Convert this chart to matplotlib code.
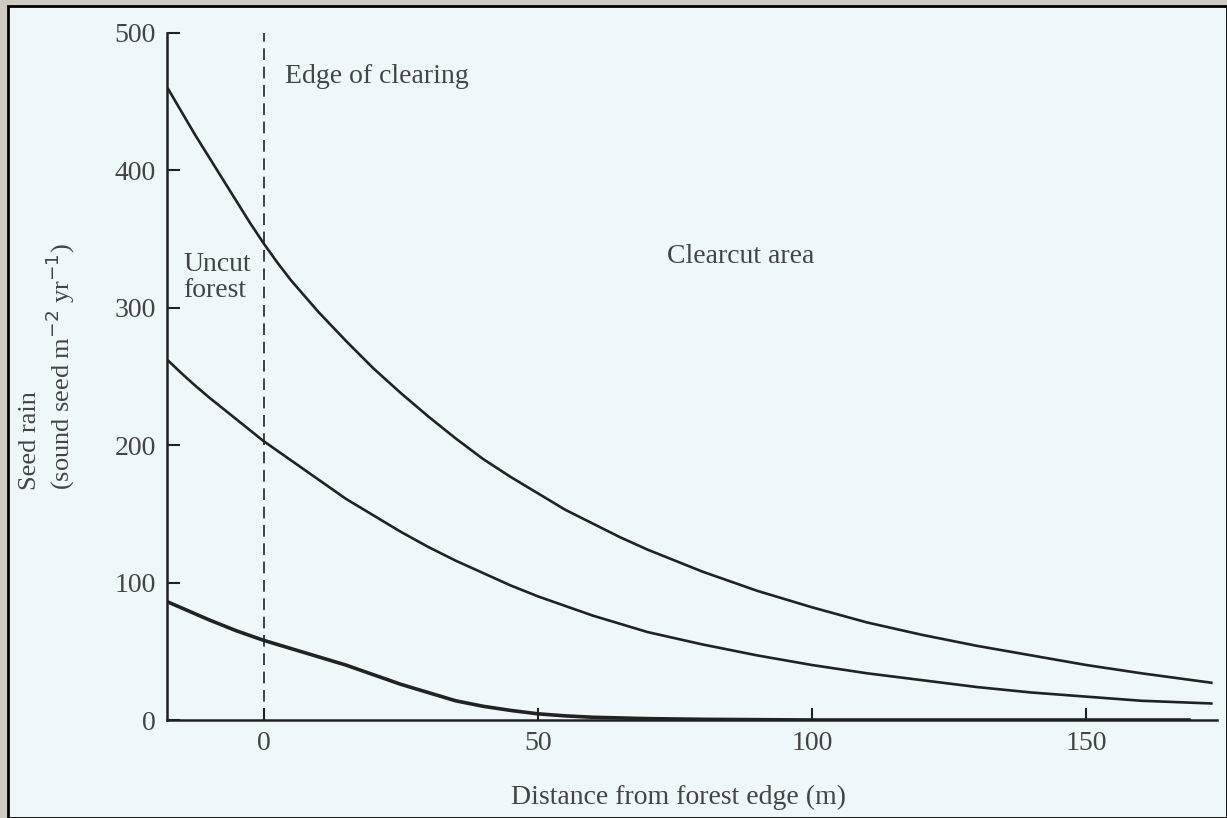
import matplotlib.pyplot as plt
from matplotlib.patches import Rectangle

plt.rcParams['font.family'] = ['Liberation Serif', 'DejaVu Serif']

# distance from forest edge (m) and seed rain
dist = [-17.5, -15, -12.5, -10, -7.5, -5, -2.5, 0, 2.5, 5, 10, 15, 20, 25, 30, 35, 40, 45, 50, 55,
        60, 65, 70, 80, 90, 100, 110, 120, 130, 140, 150, 160, 173]
top = [460, 443, 426, 410, 394, 378, 362, 347, 333, 320, 297, 276, 256, 238, 221, 205, 190, 177, 165, 153,
       143, 133, 124, 108, 94, 82, 71, 62, 54, 47, 40, 34, 27]
middle = [262, 252.5, 243.5, 235, 227, 219, 211, 203, 196, 189, 175, 161, 149, 137, 126, 116, 107, 98, 90, 83,
          76, 70, 64, 55, 47, 40, 34, 29, 24, 20, 17, 14, 12]
dist_low = [-17.5, -10, -5, 0, 5, 10, 15, 20, 25, 30, 35, 40, 45, 50,
            55, 60, 70, 80, 100, 130, 169]
bottom = [86, 73, 65, 58, 52, 46, 40, 33, 26, 20, 14, 10, 7, 4.5,
          3, 2, 1, 0.5, 0, 0, 0]

xticks = [0, 50, 100, 150]
yticks = [0, 100, 200, 300, 400, 500]

bg = '#eef8fb'
ink = '#222222'
txt = '#444444'

fig = plt.figure(figsize=(12.27, 8.18), dpi=100)
fig.patch.set_facecolor('#cfcac2')
fig.patches.append(Rectangle((8 / 1227, 0), 1 - 8 / 1227, 1 - 6 / 818,
                             transform=fig.transFigure, facecolor=bg,
                             edgecolor='black', linewidth=2, zorder=-10))

ax = fig.add_axes([167 / 1227, 1 - 720 / 818, (1217 - 167) / 1227, (720 - 33) / 818])
ax.set_facecolor('none')

for y in (top, middle):
    ax.plot(dist, y, color=ink, lw=1.9, solid_capstyle='butt')
ax.plot(dist_low, bottom, color=ink, lw=2.6, solid_capstyle='butt')

ax.plot([0, 0], [0, 500], color=ink, lw=1.2, ls=(0, (7, 4)), clip_on=False)

ax.set_xlim(-17.6, 173.8)
ax.set_ylim(0, 500)
ax.spines['top'].set_visible(False)
ax.spines['right'].set_visible(False)
for s in ('left', 'bottom'):
    ax.spines[s].set_linewidth(1.8)
    ax.spines[s].set_color(ink)

ax.set_xticks(xticks)
ax.set_yticks(yticks)
ax.tick_params(direction='in', length=9, width=1.5, colors=ink,
               labelsize=20, labelcolor=txt, pad=8)

ax.text(4, 468, 'Edge of clearing', fontsize=20, color=txt, va='center')
ax.text(-14.6, 322, 'Uncut\nforest', fontsize=20, color=txt, va='center',
        linespacing=1.05)
ax.text(73.5, 337, 'Clearcut area', fontsize=20, color=txt, va='center')

ax.set_xlabel('Distance from forest edge (m)', fontsize=20, color=txt)
ax.xaxis.set_label_coords(0.487, -0.095)
fig.text(48 / 1227, 1 - 490 / 818, 'Seed rain\n(sound seed m$^{-2}$ yr$^{-1}$)',
         fontsize=19, color=txt, rotation=90, ha='center', va='bottom',
         multialignment='left', linespacing=1.1)

fig.savefig('out.png', dpi=100, facecolor=fig.get_facecolor())
